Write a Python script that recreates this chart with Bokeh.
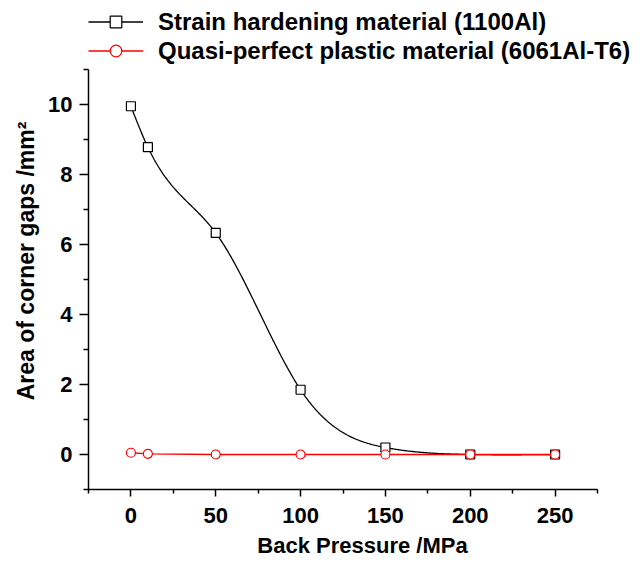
import numpy as np
from bokeh.plotting import figure
from bokeh.models import Range1d, FixedTicker, Legend, LegendItem
from bokeh.embed import file_html
from bokeh.resources import INLINE

# ---- data ----
back_pressure = [0, 10, 50, 100, 150, 200, 250]
area_1100al = [9.95, 8.78, 6.33, 1.85, 0.20, 0.0, 0.0]
area_6061 = [0.05, 0.02, 0.0, 0.0, 0.0, 0.0, 0.0]
label_1100 = "Strain hardening material (1100Al)"
label_6061 = "Quasi-perfect plastic material (6061Al-T6)"
x_title = "Back Pressure /MPa"
y_title = "Area of corner gaps /mm\u00b2"
x_major = [0, 50, 100, 150, 200, 250]
x_minor = [-25, 25, 75, 125, 175, 225, 275]
y_major = [0, 2, 4, 6, 8, 10]
y_minor = [-1, 1, 3, 5, 7, 9, 11]
x_axis_min, x_axis_max = -25, 275
y_axis_min, y_axis_max = -1, 11


def natural_spline(xs, ys, n=400):
    xs = np.asarray(xs, float)
    ys = np.asarray(ys, float)
    k = len(xs)
    h = np.diff(xs)
    A = np.zeros((k, k))
    b = np.zeros(k)
    A[0, 0] = 1
    A[-1, -1] = 1
    for i in range(1, k - 1):
        A[i, i - 1] = h[i - 1]
        A[i, i] = 2 * (h[i - 1] + h[i])
        A[i, i + 1] = h[i]
        b[i] = 6 * ((ys[i + 1] - ys[i]) / h[i] - (ys[i] - ys[i - 1]) / h[i - 1])
    M = np.linalg.solve(A, b)
    xx = np.linspace(xs[0], xs[-1], n)
    yy = np.empty_like(xx)
    for j, x in enumerate(xx):
        i = min(np.searchsorted(xs, x, side="right") - 1, k - 2)
        t1 = xs[i + 1] - x
        t0 = x - xs[i]
        yy[j] = (M[i] * t1 ** 3 / (6 * h[i]) + M[i + 1] * t0 ** 3 / (6 * h[i])
                 + (ys[i] / h[i] - M[i] * h[i] / 6) * t1
                 + (ys[i + 1] / h[i] - M[i + 1] * h[i] / 6) * t0)
    return xx, yy


FONT = "Liberation Sans"

# layout in pixels: the axes occupy 509 x 420 px; the frame extends up and right to hold the legend
W, H = 636, 560
LEFT, RIGHT, TOP, BOTTOM = 88, 0, 0, 71
AXIS_W_PX, AXIS_H_PX = 509, 420
frame_w = W - LEFT - RIGHT
frame_h = H - TOP - BOTTOM
x_right = x_axis_min + (x_axis_max - x_axis_min) * frame_w / AXIS_W_PX
y_top = y_axis_min + (y_axis_max - y_axis_min) * frame_h / AXIS_H_PX

p = figure(width=W, height=H, output_backend="svg", toolbar_location=None,
           x_range=Range1d(x_axis_min, x_right), y_range=Range1d(y_axis_min, y_top),
           min_border_left=LEFT, min_border_right=RIGHT, min_border_top=TOP,
           min_border_bottom=BOTTOM)
p.outline_line_color = None
p.xgrid.visible = False
p.ygrid.visible = False
p.background_fill_color = "white"
p.border_fill_color = "white"

sx, sy = natural_spline(back_pressure, area_1100al)
l1 = p.line(sx, sy, line_color="black", line_width=1.3)
m1 = p.scatter(back_pressure, area_1100al, marker="square", size=9,
               fill_color="white", line_color="black", line_width=1.2)
l2 = p.line(back_pressure, area_6061, line_color="#ff0000", line_width=1.3)
m2 = p.scatter(back_pressure, area_6061, marker="circle", size=9,
               fill_color="white", line_color="#ff0000", line_width=1.2)

p.xaxis.ticker = FixedTicker(ticks=x_major, minor_ticks=x_minor)
p.yaxis.ticker = FixedTicker(ticks=y_major, minor_ticks=y_minor)
p.xaxis.bounds = (x_axis_min, x_axis_max)
p.yaxis.bounds = (y_axis_min, y_axis_max)
p.xaxis.axis_label = x_title
# non-breaking spaces shift the centred title down to sit beside the drawn axis
p.yaxis.axis_label = y_title + "\u00a0" * 5

for ax in (p.xaxis[0], p.yaxis[0]):
    ax.axis_line_width = 1.5
    ax.major_tick_line_width = 1.5
    ax.minor_tick_line_width = 1.5
    ax.major_tick_in = 0
    ax.minor_tick_in = 0
    ax.major_label_text_font = FONT
    ax.major_label_text_font_style = "bold"
    ax.major_label_text_font_size = "22px"
    ax.major_label_text_color = "black"
    ax.axis_label_text_font = FONT
    ax.axis_label_text_font_style = "bold"
    ax.axis_label_text_color = "black"

p.xaxis.axis_label_text_font_size = "22px"
p.yaxis.axis_label_text_font_size = "23px"
p.xaxis.major_tick_out = 7
p.xaxis.minor_tick_out = 4
p.yaxis.major_tick_out = 9
p.yaxis.minor_tick_out = 5
p.xaxis.major_label_standoff = 11
p.yaxis.major_label_standoff = 7
p.xaxis.axis_label_standoff = 7
p.yaxis.axis_label_standoff = 6

legend = Legend(items=[LegendItem(label=label_1100, renderers=[l1, m1]),
                       LegendItem(label=label_6061, renderers=[l2, m2])],
                location=(0, frame_h - (65 - TOP)), orientation="vertical",
                padding=0, margin=0, spacing=0,
                label_height=29, glyph_height=29, glyph_width=55, label_standoff=15,
                border_line_color=None, background_fill_alpha=0,
                label_text_font=FONT, label_text_font_style="bold",
                label_text_font_size="24px", label_text_color="black")
p.add_layout(legend, "center")

open("out.html", "w").write(file_html(p, INLINE))
